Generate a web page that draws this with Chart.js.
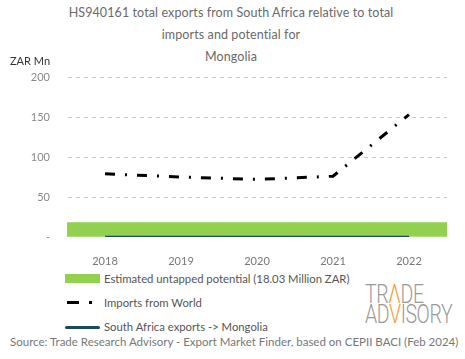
<!DOCTYPE html>
<html>
<head>
<meta charset="utf-8">
<script src="https://cdn.jsdelivr.net/npm/chart.js@4/dist/chart.umd.min.js"></script>
<style>
  body { margin: 0; width: 465px; height: 359px; background: #fff; font-family: Lato, 'Open Sans', sans-serif; position: relative; overflow: hidden; }
  #title { position: absolute; left: 0; top: 2px; width: 462px; text-align: center; color: #6a6a6a; font-size: 12.5px; line-height: 22px; letter-spacing: 0.1px; }
  #unit { position: absolute; left: 10px; top: 54px; font-size: 11px; color: #333; }
  #wrap { position: absolute; left: 0; top: 0; width: 465px; height: 265px; }
  #legend { position: absolute; left: 65px; top: 266px; font-size: 11.3px; color: #555; }
  .item { height: 24px; display: flex; align-items: center; }
  .sym { width: 35px; height: 14px; margin-right: 4px; position: relative; }
  #source { position: absolute; left: 10px; top: 335px; font-size: 11.5px; color: #777; white-space: nowrap; }
  #logo { position: absolute; left: 365px; top: 285px; color: #9a9a9a; font-family: Roboto, sans-serif; font-weight: 300; font-size: 25px; line-height: 20px; letter-spacing: -0.5px; transform: scaleX(0.78); transform-origin: left top; }
  #logo b { color: #f0a030; font-weight: 300; }
</style>
</head>
<body>
<div id="title">HS940161 total exports from South Africa relative to total<br>imports and potential for<br>Mongolia</div>
<div id="wrap"><canvas id="chart"></canvas></div>
<div id="unit">ZAR Mn</div>
<div id="legend"></div>
<div id="source">Source: Trade Research Advisory - Export Market Finder, based on CEPII BACI (Feb 2024)</div>
<div id="logo">TR<b>Λ</b>DE<br>AD<b>V</b>ISORY</div>
<script>
var years = ['2018', '2019', '2020', '2021', '2022'];
var potential = [18.03, 18.03, 18.03, 18.03, 18.03];
var importsWorld = [79, 75, 72, 76, 153];
var saExports = [0, 0, 0, 0, 0];
var yTicks = [0, 50, 100, 150, 200];

var green = '#92D050';
var teal = '#1b4a5d';

var ctx = document.getElementById('chart');
var chart = new Chart(ctx, {
    type: 'bar',
    data: {
        labels: years,
        datasets: [
            {
                type: 'bar',
                label: 'Estimated untapped potential (18.03 Million ZAR)',
                data: potential,
                backgroundColor: green,
                barPercentage: 1,
                categoryPercentage: 1,
                order: 3
            },
            {
                type: 'line',
                label: 'Imports from World',
                data: importsWorld,
                borderColor: '#000',
                borderWidth: 3,
                borderDash: [10, 10, 2, 10],
                pointRadius: 0,
                tension: 0,
                fill: false,
                order: 1
            },
            {
                type: 'line',
                label: 'South Africa exports -> Mongolia',
                data: saExports,
                borderColor: teal,
                borderWidth: 2.5,
                pointRadius: 0,
                fill: false,
                order: 2
            }
        ]
    },
    options: {
        responsive: true,
        maintainAspectRatio: false,
        animation: false,
        layout: {
            padding: { top: 77, right: 18, left: 0, bottom: 0 }
        },
        plugins: {
            legend: { display: false },
            tooltip: { enabled: false },
            title: { display: false }
        },
        scales: {
            x: {
                grid: { display: false },
                border: { display: false },
                ticks: {
                    color: '#777',
                    font: { family: 'Lato', size: 11 },
                    padding: 10
                },
                afterFit: function (scale) { scale.height = 28; }
            },
            y: {
                min: 0,
                max: 200,
                afterBuildTicks: function (scale) {
                    scale.ticks = yTicks.map(function (v) { return { value: v }; });
                },
                grid: {
                    color: function (c) { return c.tick.value === 0 ? 'rgba(0,0,0,0)' : '#c8c8c8'; },
                    lineWidth: 1,
                    drawTicks: false
                },
                border: { display: true, color: 'rgba(0,0,0,0)', dash: [4, 4] },
                ticks: {
                    color: '#888',
                    font: { family: 'Lato', size: 11 },
                    padding: 17,
                    callback: function (val) { return val === 0 ? '-' : val; }
                },
                afterFit: function (scale) { scale.width = 67; }
            }
        }
    }
});

// HTML legend built from the datasets
var legend = document.getElementById('legend');
chart.data.datasets.forEach(function (ds, i) {
    var row = document.createElement('div');
    row.className = 'item';
    var sym = document.createElement('div');
    sym.className = 'sym';
    if (i === 0) {
        sym.innerHTML = '<div style="position:absolute;left:0;top:3px;width:35px;height:9px;background:' + ds.backgroundColor + '"></div>';
    } else if (i === 1) {
        sym.innerHTML = '<div style="position:absolute;left:2px;top:6px;width:12px;height:3px;background:#000"></div>' +
            '<div style="position:absolute;left:24px;top:6px;width:3px;height:3px;background:#000"></div>';
    } else {
        sym.innerHTML = '<div style="position:absolute;left:0;top:7px;width:35px;height:3px;border-radius:2px;background:' + ds.borderColor + '"></div>';
    }
    var txt = document.createElement('span');
    txt.textContent = ds.label;
    row.appendChild(sym);
    row.appendChild(txt);
    legend.appendChild(row);
});
</script>
</body>
</html>
